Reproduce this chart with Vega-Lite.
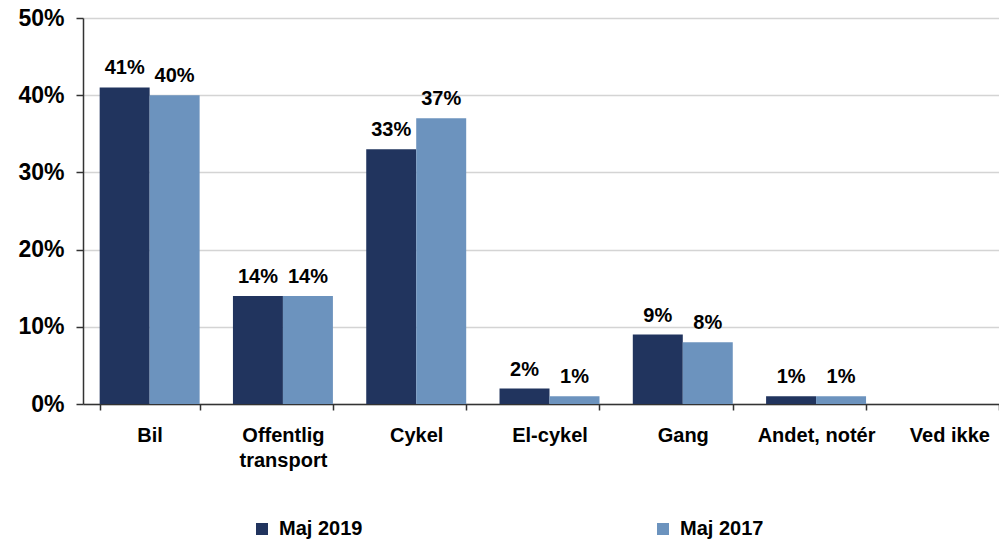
{
  "$schema": "https://vega.github.io/schema/vega-lite/v6.json",
  "width": 933,
  "height": 386,
  "autosize": {"type": "none"},
  "padding": {"left": 83, "top": 18, "right": -17, "bottom": 136},
  "background": "white",
  "config": {
    "font": "Liberation Sans",
    "view": {"stroke": null}
  },
  "data": {
    "values": [
      {"kategori": "Bil", "periode": "Maj 2019", "pct": 0.41},
      {"kategori": "Bil", "periode": "Maj 2017", "pct": 0.40},
      {"kategori": "Offentlig transport", "periode": "Maj 2019", "pct": 0.14},
      {"kategori": "Offentlig transport", "periode": "Maj 2017", "pct": 0.14},
      {"kategori": "Cykel", "periode": "Maj 2019", "pct": 0.33},
      {"kategori": "Cykel", "periode": "Maj 2017", "pct": 0.37},
      {"kategori": "El-cykel", "periode": "Maj 2019", "pct": 0.02},
      {"kategori": "El-cykel", "periode": "Maj 2017", "pct": 0.01},
      {"kategori": "Gang", "periode": "Maj 2019", "pct": 0.09},
      {"kategori": "Gang", "periode": "Maj 2017", "pct": 0.08},
      {"kategori": "Andet, notér", "periode": "Maj 2019", "pct": 0.01},
      {"kategori": "Andet, notér", "periode": "Maj 2017", "pct": 0.01}
    ]
  },
  "encoding": {
    "x": {
      "field": "kategori",
      "type": "nominal",
      "sort": ["Bil", "Offentlig transport", "Cykel", "El-cykel", "Gang", "Andet, notér", "Ved ikke"],
      "scale": {"domain": ["Bil", "Offentlig transport", "Cykel", "El-cykel", "Gang", "Andet, notér", "Ved ikke"], "paddingInner": 0.25, "paddingOuter": 0.125},
      "axis": {
        "title": null,
        "labelAngle": 0,
        "labelFont": "Liberation Sans",
        "labelFontWeight": "bold",
        "labelFontSize": 20,
        "labelColor": "#000000",
        "labelPadding": 15,
        "labelLineHeight": 25,
        "labelBaseline": "top",
        "labelLimit": 200,
        "labelExpr": "datum.value == 'Offentlig transport' ? ['Offentlig', 'transport'] : datum.value",
        "tickBand": "extent",
        "tickSize": 6,
        "tickColor": "#333333",
        "tickWidth": 1.5,
        "domainColor": "#333333",
        "domainWidth": 1.5,
        "grid": false
      }
    },
    "xOffset": {
      "field": "periode",
      "type": "nominal",
      "sort": ["Maj 2019", "Maj 2017"],
      "scale": {"paddingInner": 0, "paddingOuter": 0}
    },
    "y": {
      "field": "pct",
      "type": "quantitative",
      "scale": {"domain": [0, 0.5], "nice": false},
      "axis": {
        "title": null,
        "values": [0, 0.1, 0.2, 0.3, 0.4, 0.5],
        "format": ".0%",
        "labelFont": "Liberation Sans",
        "labelFontWeight": "bold",
        "labelFontSize": 23,
        "labelColor": "#000000",
        "labelPadding": 12,
        "tickSize": 7,
        "tickColor": "#333333",
        "tickWidth": 1.5,
        "domainColor": "#333333",
        "domainWidth": 1.5,
        "grid": true,
        "gridColor": "#d4d4d4",
        "gridWidth": 1.5
      }
    }
  },
  "layer": [
    {
      "mark": {"type": "bar"},
      "encoding": {
        "color": {
          "field": "periode",
          "type": "nominal",
          "sort": ["Maj 2019", "Maj 2017"],
          "scale": {"domain": ["Maj 2019", "Maj 2017"], "range": ["#21345e", "#6c93be"]},
          "legend": {
            "title": null,
            "orient": "none",
            "direction": "horizontal",
            "legendX": 169,
            "legendY": 501,
            "symbolType": "square",
            "symbolSize": 144,
            "symbolStrokeWidth": 0,
            "labelFont": "Liberation Sans",
            "labelFontWeight": "bold",
            "labelFontSize": 20,
            "labelColor": "#000000",
            "labelOffset": 7,
            "columnPadding": 290
          }
        }
      }
    },
    {
      "mark": {"type": "text", "baseline": "alphabetic", "dy": -13, "fontWeight": "bold", "fontSize": 20, "font": "Liberation Sans", "color": "#000000"},
      "encoding": {
        "text": {"field": "pct", "type": "quantitative", "format": ".0%"},
        "detail": {"field": "periode"}
      }
    }
  ]
}
